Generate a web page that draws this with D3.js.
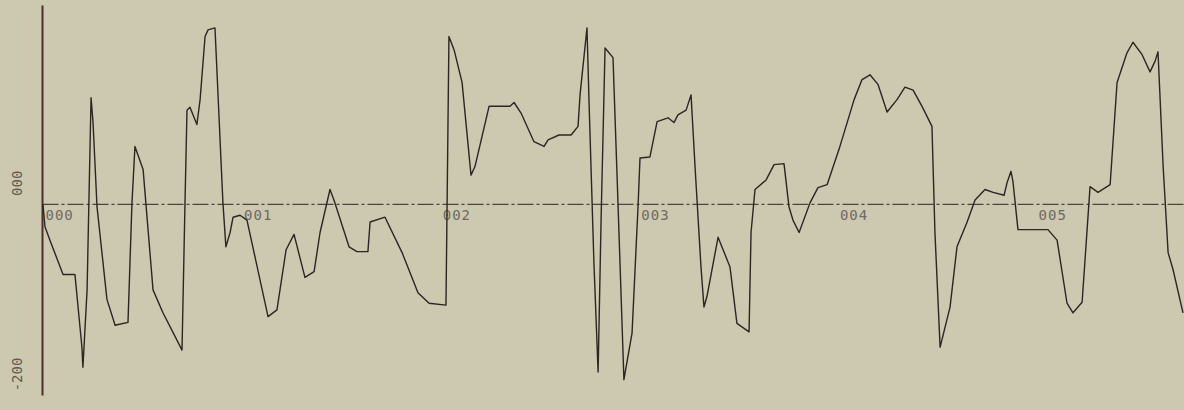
<!DOCTYPE html>
<html>
<head>
<meta charset="utf-8">
<script src="https://cdn.jsdelivr.net/npm/d3@7"></script>
<style>
  body { margin: 0; background: #cdc8b0; }
  svg { display: block; }
</style>
</head>
<body>
<svg></svg>
<script>
const width = 1184;
const height = 410;

// series (x in axis units, y in axis units)
const xValues = [0.005,0.015,0.040,0.106,0.166,0.201,0.206,0.227,0.247,0.257,0.277,0.327,0.368,0.433,0.453,0.468,0.509,0.559,0.609,0.705,
  0.720,0.730,0.745,0.780,0.796,0.821,0.836,0.871,0.911,0.926,0.947,0.962,0.997,1.032,1.138,1.183,1.229,1.269,1.324,1.370,
  1.400,1.450,1.470,1.546,1.586,1.641,1.652,1.727,1.813,1.893,1.949,2.034,2.049,2.075,2.115,2.160,2.180,2.251,2.356,2.377,
  2.412,2.477,2.528,2.548,2.603,2.664,2.699,2.709,2.744,2.754,2.779,2.800,2.815,2.835,2.875,2.895,2.930,2.971,3.001,3.011,
  3.061,3.097,3.152,3.182,3.202,3.243,3.268,3.288,3.318,3.333,3.348,3.404,3.464,3.499,3.560,3.570,3.590,3.646,3.686,3.736,
  3.761,3.781,3.812,3.867,3.907,3.953,4.013,4.089,4.129,4.169,4.209,4.255,4.305,4.345,4.386,4.431,4.481,4.496,4.522,4.547,
  4.572,4.607,4.658,4.698,4.748,4.789,4.844,4.859,4.879,4.889,4.914,5.065,5.111,5.161,5.191,5.237,5.277,5.317,5.378,5.413,
  5.463,5.493,5.539,5.579,5.604,5.619,5.645,5.670,5.695,5.745];
const yValues = [-1,-24,-38,-74,-74,-150,-171,-90,111,85,-3,-100,-127,-124,1,60,36,-90,-114,-153,
  1,98,101,83,109,175,182,184,1,-45,-30,-14,-12,-17,-118,-111,-48,-32,-77,-71,
  -30,15,4,-45,-50,-50,-19,-14,-51,-93,-104,-106,175,161,127,30,39,102,102,106,
  95,65,60,67,72,72,81,114,184,109,-62,-176,-17,163,153,32,-184,-135,-3,48,
  49,86,90,85,93,98,114,39,-66,-108,-97,-35,-66,-125,-134,-30,15,25,41,42,
  -3,-17,-30,1,17,20,57,109,130,135,125,96,109,122,119,102,81,-30,-150,-129,
  -108,-45,-19,4,15,12,9,22,34,23,-27,-27,-38,-104,-114,-103,18,12,20,127,
  158,169,156,138,149,159,39,-51,-69,-114];

const xTicks = [0, 1, 2, 3, 4, 5];
const xTickLabels = ["000", "001", "002", "003", "004", "005"];
const yTicks = [0, -200];
const yTickLabels = ["000", "-200"];

const data = xValues.map((x, i) => [x, yValues[i]]);

const svg = d3.select("svg")
  .attr("width", width)
  .attr("height", height);

svg.append("rect")
  .attr("width", width)
  .attr("height", height)
  .attr("fill", "#cdc8b0");

const xScale = d3.scaleLinear()
  .domain([0, 5.75])
  .range([42, 1184]);

const yScale = d3.scaleLinear()
  .domain([-200, 208])
  .range([395, 5]);

// zero line with the tick labels hanging under it
const xAxis = d3.axisBottom(xScale)
  .tickValues(xTicks)
  .tickFormat((d, i) => xTickLabels[i])
  .tickSize(0)
  .tickSizeOuter(0);

const gx = svg.append("g")
  .attr("transform", "translate(0," + yScale(0) + ")")
  .call(xAxis);

gx.select(".domain")
  .attr("stroke", "#4a4640")
  .attr("stroke-width", 1.3)
  .attr("stroke-dasharray", "16,3,3,3");

gx.selectAll(".tick text")
  .attr("text-anchor", "start")
  .attr("x", 3)
  .attr("y", 6)
  .attr("fill", "#6e6a5e")
  .style("font-family", "DejaVu Sans Mono, monospace")
  .style("font-size", "14px")
  .style("letter-spacing", "1px");

// y axis, labels turned on their side
const yAxis = d3.axisLeft(yScale)
  .tickValues(yTicks)
  .tickFormat((d, i) => yTickLabels[i])
  .tickSize(0)
  .tickSizeOuter(0);

const gy = svg.append("g")
  .attr("transform", "translate(42,0)")
  .call(yAxis);

gy.select(".domain")
  .attr("stroke", "#4b2f2d")
  .attr("stroke-width", 2);

gy.selectAll(".tick text")
  .attr("x", 0)
  .attr("dy", 0)
  .attr("text-anchor", "middle")
  .attr("transform", "translate(-20,-21) rotate(-90)")
  .attr("fill", "#5e5a50")
  .style("font-family", "DejaVu Sans Mono, monospace")
  .style("font-size", "14px");

const line = d3.line()
  .x(d => xScale(d[0]))
  .y(d => yScale(d[1]));

svg.append("path")
  .datum(data)
  .attr("fill", "none")
  .attr("stroke", "#2a2622")
  .attr("stroke-width", 1.4)
  .attr("stroke-linejoin", "round")
  .attr("d", line);
</script>
</body>
</html>
